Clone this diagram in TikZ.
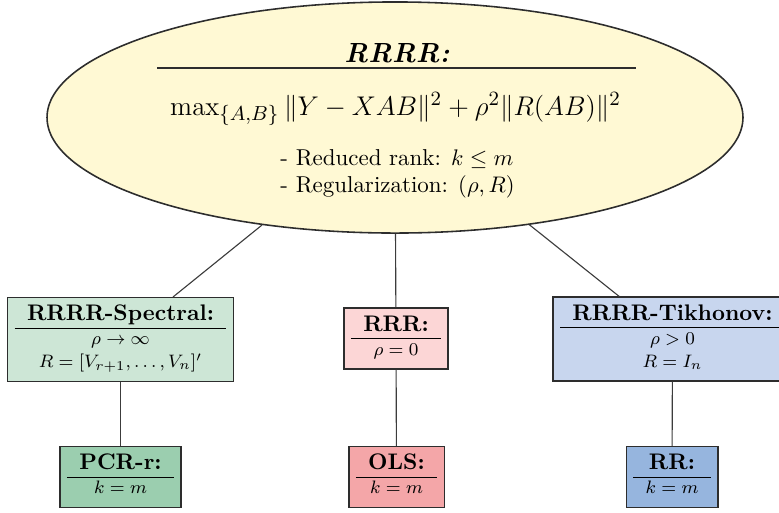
\documentclass[tikz,border=0pt]{standalone}
\usepackage{amsmath}
\usetikzlibrary{shapes.geometric}
\setlength{\tabcolsep}{5.5pt}
\definecolor{linec}{RGB}{45,45,45}
\definecolor{edgec}{RGB}{60,60,60}
\definecolor{ellfill}{RGB}{255,249,212}
\definecolor{specfill}{RGB}{205,230,214}
\definecolor{pcrfill}{RGB}{155,206,175}
\definecolor{rrrfill}{RGB}{252,214,214}
\definecolor{olsfill}{RGB}{244,166,168}
\definecolor{tikfill}{RGB}{200,214,238}
\definecolor{rrfill}{RGB}{150,181,222}
\newcommand{\boxtitle}[1]{{\fontsize{10}{12}\selectfont\bfseries #1}}
\begin{document}
\begin{tikzpicture}[x=0.444pt, y=-0.444pt,
  box/.style={draw=linec, line width=0.6pt, inner sep=3.1pt,
    font=\fontsize{8.5}{10.2}\selectfont},
  link/.style={draw=edgec, line width=0.5pt}]
\useasboundingbox (0,0) rectangle (779,512);

% top-level model
\node[ellipse, draw=linec, line width=0.7pt, fill=ellfill, inner sep=0pt,
  minimum width=309pt, minimum height=102.6pt] (rrrr) at (395,117.5) {};
\node[anchor=base, inner sep=0pt, font=\fontsize{12.3}{14}\selectfont\bfseries\itshape]
  (rrrrtitle) at (397,62) {RRRR:};
\draw[draw=linec, line width=0.5pt] (157,68) -- (636,68);
\node[anchor=base, inner sep=0pt, font=\fontsize{12.6}{15}\selectfont]
  (objective) at (395.5,115)
  {$\max_{\{A,B\}}\|Y-XAB\|^2+\rho^2\|R(AB)\|^2$};
\node[anchor=base west, inner sep=0pt, font=\fontsize{10.2}{12}\selectfont]
  (note1) at (280,165) {- Reduced rank: $k\leq m$};
\node[anchor=base west, inner sep=0pt, font=\fontsize{10.2}{12}\selectfont]
  (note2) at (280,192) {- Regularization: $(\rho,R)$};

% special cases
\node[box, fill=specfill] (spectral) at (120.5,339.5)
  {\begin{tabular}{c}\boxtitle{RRRR-Spectral:}\\\hline
   $\rho\to\infty$\\ $R=[V_{r+1},\ldots,V_n]'$\end{tabular}};
\node[box, fill=rrrfill] (rrr) at (396,338.5)
  {\begin{tabular}{c}\boxtitle{RRR:}\\\hline $\rho=0$\end{tabular}};
\node[box, fill=tikfill] (tikhonov) at (672.5,339)
  {\begin{tabular}{c}\boxtitle{RRRR-Tikhonov:}\\\hline
   $\rho>0$\\ $R=I_n$\end{tabular}};

\node[box, fill=pcrfill] (pcr) at (120.5,477)
  {\begin{tabular}{c}\boxtitle{PCR-r:}\\\hline $k=m$\end{tabular}};
\node[box, fill=olsfill] (ols) at (396.5,477)
  {\begin{tabular}{c}\boxtitle{OLS:}\\\hline $k=m$\end{tabular}};
\node[box, fill=rrfill] (rr) at (672,477)
  {\begin{tabular}{c}\boxtitle{RR:}\\\hline $k=m$\end{tabular}};

% connectors
\path[link] (rrrr) -- (spectral);
\path[link] (rrrr) -- (rrr);
\path[link] (rrrr) -- (tikhonov);
\path[link] (spectral) -- (pcr);
\path[link] (rrr) -- (ols);
\path[link] (tikhonov) -- (rr);
\end{tikzpicture}
\end{document}
